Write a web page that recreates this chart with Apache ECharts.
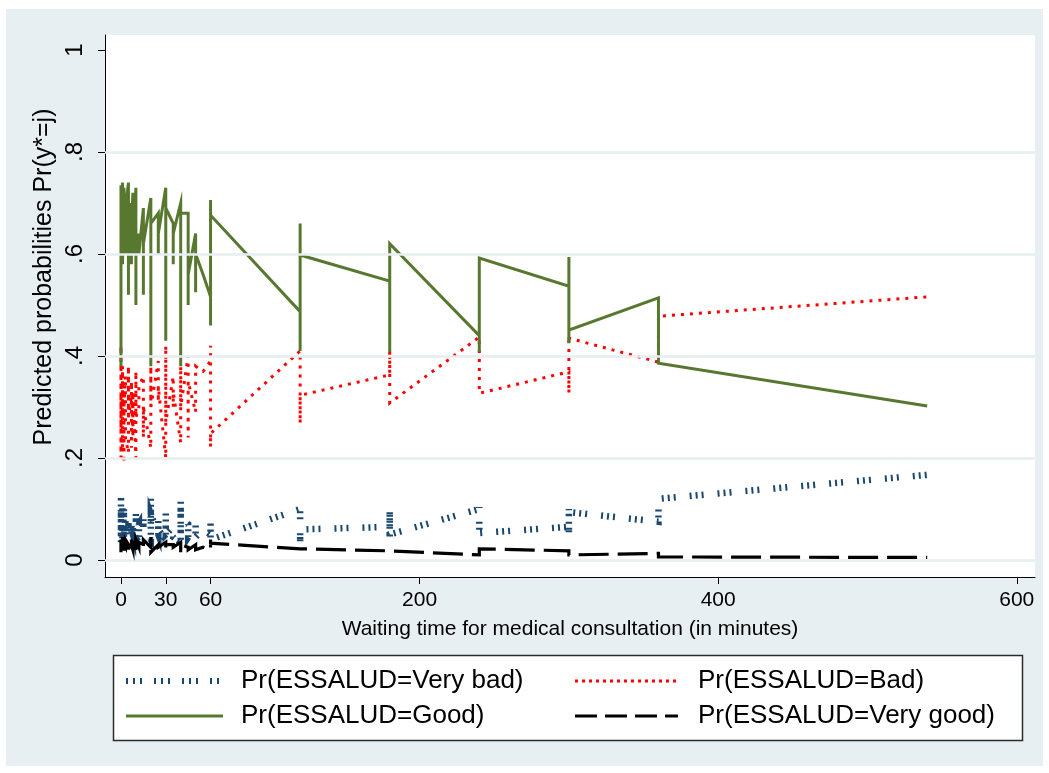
<!DOCTYPE html>
<html>
<head>
<meta charset="utf-8">
<script src="https://cdn.jsdelivr.net/npm/echarts@6/dist/echarts.min.js"></script>
<style>
html,body{margin:0;padding:0;background:#ffffff;}
#bg{position:absolute;left:6px;top:9px;width:1037px;height:757px;background:#e8eff2;}
#c{position:absolute;left:0;top:0;width:1049px;height:773px;}
</style>
</head>
<body>
<div id="bg"></div>
<div id="c"></div>
<script>
// ---- tick labels / axis ----
const xTicks = [0, 30, 60, 200, 400, 600];
const yTicks = [0, 0.2, 0.4, 0.6, 0.8, 1];
const yTickLabels = ['0', '.2', '.4', '.6', '.8', '1'];
const gridLevels = [0, 0.2, 0.4, 0.6, 0.8];
const xTitle = 'Waiting time for medical consultation (in minutes)';
const yTitle = 'Predicted probabilities Pr(y*=j)';
const seriesNames = ['Pr(ESSALUD=Very bad)', 'Pr(ESSALUD=Bad)', 'Pr(ESSALUD=Good)', 'Pr(ESSALUD=Very good)'];

// ---- series values: [waiting time, [predicted probabilities in plotted order]] ----
const veryBad = [
  [0, [0.05, 0.125, 0.035, 0.10, 0.06, 0.09]],
  [1, [0.07, 0.04, 0.11]],
  [2, [0.06, 0.10, 0.045]],
  [3, [0.08, 0.05]],
  [5, [0.04, 0.075, 0.05]],
  [7, [0.07, 0.04, 0.06]],
  [8, [0.05, 0.075]],
  [10, [0.04, 0.09, 0.06]],
  [12, [0.07, 0.045]],
  [15, [0.05, 0.08, 0.06]],
  [20, [0.04, 0.123, 0.06, 0.09]],
  [25, [0.05, 0.085, 0.06]],
  [30, [0.04, 0.092, 0.05]],
  [35, [0.065, 0.045]],
  [40, [0.035, 0.12, 0.05, 0.08]],
  [45, [0.07, 0.045]],
  [50, [0.068, 0.045]],
  [55, [0.06]],
  [60, [0.05, 0.085, 0.035, 0.04]],
  [120, [0.10, 0.035, 0.06]],
  [180, [0.065, 0.105, 0.04, 0.05]],
  [240, [0.10, 0.104, 0.053, 0.055]],
  [300, [0.065, 0.10, 0.053, 0.094]],
  [360, [0.075, 0.115, 0.12]],
  [540, [0.167]]
];
const bad = [
  [0, [0.30, 0.42, 0.20, 0.35, 0.25, 0.32]],
  [1, [0.28, 0.38, 0.22]],
  [2, [0.34, 0.19, 0.30]],
  [3, [0.36, 0.24]],
  [5, [0.21, 0.38, 0.28]],
  [7, [0.32, 0.22, 0.35]],
  [8, [0.24, 0.33]],
  [10, [0.20, 0.37, 0.28]],
  [12, [0.30, 0.34]],
  [15, [0.36, 0.24, 0.30]],
  [20, [0.22, 0.38, 0.30]],
  [25, [0.39, 0.31, 0.34]],
  [30, [0.20, 0.42, 0.27]],
  [35, [0.36, 0.30, 0.33]],
  [40, [0.23, 0.38, 0.30]],
  [45, [0.40, 0.24, 0.35]],
  [50, [0.29, 0.38]],
  [55, [0.37]],
  [60, [0.39, 0.42, 0.222, 0.248]],
  [120, [0.41, 0.268, 0.323]],
  [180, [0.363, 0.41, 0.308]],
  [240, [0.437, 0.327, 0.33]],
  [300, [0.369, 0.327, 0.44, 0.435]],
  [360, [0.388, 0.478]],
  [540, [0.516]]
];
const good = [
  [0, [0.38, 0.735, 0.56, 0.72, 0.60, 0.70]],
  [1, [0.66, 0.74, 0.58]],
  [2, [0.70, 0.62, 0.73]],
  [3, [0.60, 0.69]],
  [5, [0.74, 0.52, 0.68, 0.62]],
  [7, [0.70, 0.58, 0.66]],
  [8, [0.72, 0.60]],
  [10, [0.73, 0.50, 0.65, 0.60]],
  [12, [0.64, 0.60]],
  [15, [0.69, 0.52, 0.62]],
  [20, [0.71, 0.38, 0.62, 0.66]],
  [25, [0.68, 0.60, 0.64]],
  [30, [0.73, 0.43, 0.69]],
  [35, [0.66, 0.58, 0.64]],
  [40, [0.70, 0.38, 0.60, 0.68]],
  [45, [0.68, 0.50, 0.64, 0.56]],
  [50, [0.64, 0.525, 0.60]],
  [55, [0.56]],
  [60, [0.516, 0.46, 0.706, 0.676]],
  [120, [0.487, 0.41, 0.66, 0.598]],
  [180, [0.547, 0.408, 0.62]],
  [240, [0.44, 0.408, 0.592]],
  [300, [0.537, 0.594, 0.425, 0.451]],
  [360, [0.514, 0.386]],
  [540, [0.302]]
];
const veryGood = [
  [0, [0.02, 0.04, 0.015, 0.035, 0.025]],
  [1, [0.03, 0.045, 0.02]],
  [2, [0.035, 0.018, 0.03]],
  [3, [0.025, 0.04]],
  [5, [0.03, 0.02, 0.035]],
  [7, [0.025, 0.04, 0.03]],
  [8, [0.02, 0.035]],
  [10, [0.03, 0.018, 0.04]],
  [12, [0.025, 0.035]],
  [15, [0.03, 0.02, 0.04]],
  [20, [0.025, 0.045, 0.015]],
  [25, [0.03, 0.025]],
  [30, [0.035, 0.02, 0.03]],
  [35, [0.03, 0.025]],
  [40, [0.035, 0.015, 0.03]],
  [45, [0.025, 0.02]],
  [50, [0.03, 0.02]],
  [55, [0.025]],
  [60, [0.02, 0.04, 0.033]],
  [120, [0.022, 0.02]],
  [180, [0.018, 0.02]],
  [240, [0.01, 0.022]],
  [300, [0.018, 0.01, 0.012]],
  [360, [0.013, 0.006]],
  [540, [0.005]]
];

// ---- styles ----
const colors = ['#1a476f', '#ff0000', '#58782f', '#000000'];
const dashes = [[2, 4, 2, 4, 2, 14], [3, 6], null, [30, 9]];
const widths = [6.5, 3, 3, 3.2];
const legendDashes = [[2, 5, 2, 5, 2, 12], [3, 4], null, [22, 8]];
const legendWidths = [6, 3, 3, 3];

function flatten(groups) {
  const pts = [];
  groups.forEach(g => g[1].forEach(v => pts.push([g[0], v])));
  return pts;
}
const allData = [veryBad, bad, good, veryGood].map(flatten);

const chart = echarts.init(document.getElementById('c'), null, {renderer: 'canvas'});

const FONT = '"Liberation Sans", Arial, sans-serif';

const series = [{
  type: 'line', data: [], silent: true, z: 1,
  markLine: {
    silent: true, symbol: ['none', 'none'], label: {show: false},
    lineStyle: {color: '#e6eef1', width: 2.5, type: 'solid'},
    animation: false,
    data: gridLevels.map(v => ({yAxis: v}))
  }
}];
allData.forEach((d, i) => {
  series.push({
    name: seriesNames[i], type: 'line', data: d, showSymbol: false, symbol: 'none',
    animation: false, z: 2 + i,
    lineStyle: {color: colors[i], width: widths[i], type: dashes[i] || 'solid', cap: 'butt', join: 'miter'}
  });
});

// legend drawn as graphic (Stata style box)
const legX = [126, 575], legTextX = [241, 698], legY = [681, 716];
const legSampleW = [97, 103];
const graphics = [{
  type: 'rect', shape: {x: 113.5, y: 655.5, width: 909, height: 85},
  style: {fill: '#ffffff', stroke: '#2b2b2b', lineWidth: 1.5}, z: 10
}, {
  type: 'text', x: 44, y: 277, rotation: Math.PI / 2,
  style: {text: yTitle, font: '25px ' + FONT, fill: '#000000', align: 'center', verticalAlign: 'middle'}, z: 11
}];
seriesNames.forEach((n, i) => {
  const col = i % 2, row = Math.floor(i / 2);
  const x0 = legX[col], y0 = legY[row];
  graphics.push({
    type: 'line', shape: {x1: x0, y1: y0, x2: x0 + legSampleW[col], y2: y0},
    style: {stroke: colors[i], lineWidth: legendWidths[i], lineDash: legendDashes[i] || null, lineCap: 'butt'}, z: 11
  });
  graphics.push({
    type: 'text', x: legTextX[col], y: y0,
    style: {text: n, font: '26px ' + FONT, fill: '#000000', verticalAlign: 'middle'}, z: 11
  });
});

chart.setOption({
  backgroundColor: 'transparent',
  animation: false,
  grid: {left: 105, right: 14, top: 35, bottom: 196, show: true, backgroundColor: '#ffffff', borderWidth: 0},
  xAxis: {
    type: 'value', min: -10.7, max: 612.2,
    name: xTitle, nameLocation: 'middle', nameGap: 42,
    nameTextStyle: {fontSize: 21, color: '#000', fontFamily: FONT},
    axisLine: {show: true, onZero: false, lineStyle: {color: '#000', width: 1}},
    axisTick: {show: true, length: 7, lineStyle: {color: '#000'}, customValues: xTicks},
    axisLabel: {show: true, customValues: xTicks, fontSize: 21, color: '#000', fontFamily: FONT, margin: 13},
    splitLine: {show: false}
  },
  yAxis: {
    type: 'value', min: -0.0333, max: 1.0294,
    axisLine: {show: true, onZero: false, lineStyle: {color: '#000', width: 1}},
    axisTick: {show: true, length: 7, lineStyle: {color: '#000'}, customValues: yTicks},
    axisLabel: {
      show: true, customValues: yTicks, rotate: 90, fontSize: 24, color: '#000', fontFamily: FONT, margin: 18,
      formatter: v => { const k = yTicks.findIndex(t => Math.abs(t - v) < 1e-6); return k >= 0 ? yTickLabels[k] : ''; }
    },
    splitLine: {show: false}
  },
  graphic: graphics,
  series: series
});
</script>
</body>
</html>
